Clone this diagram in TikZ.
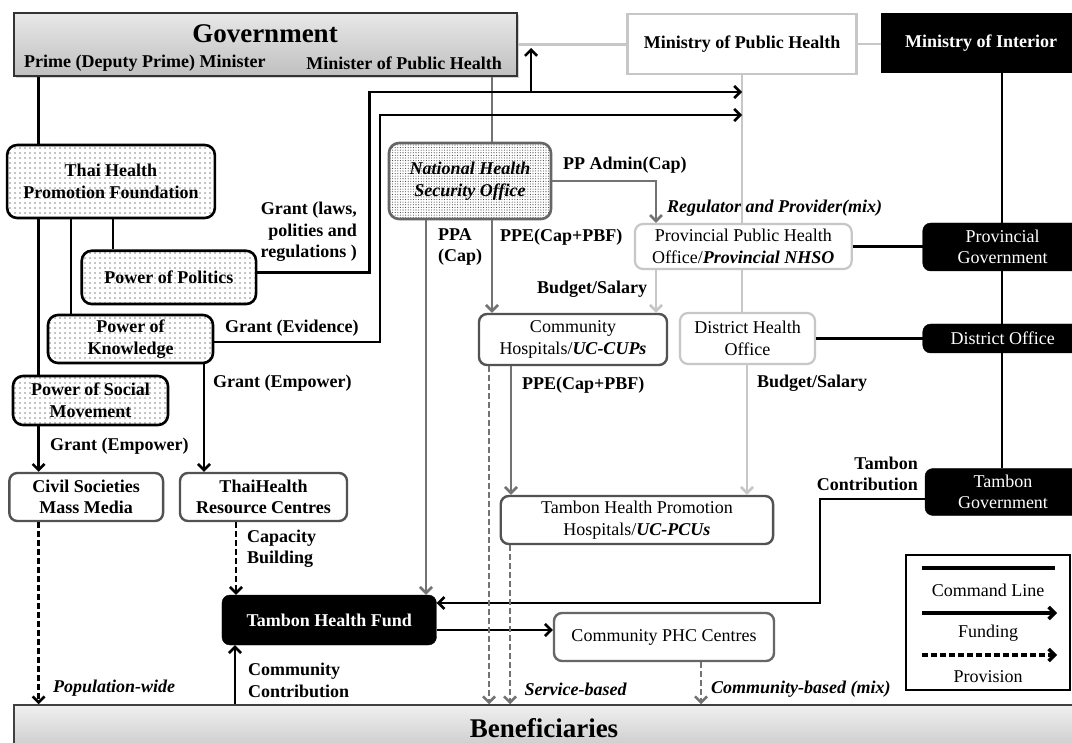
\documentclass[tikz,border=0pt]{standalone}
\usepackage{fontspec}
\setmainfont{Liberation Serif}
\usetikzlibrary{arrows.meta,patterns.meta,shadows}
\colorlet{midgray}{black!55}
\colorlet{lightgray}{black!22}
\begin{document}
\begin{tikzpicture}[x=1pt,y=-1pt,
  every node/.style={font=\fontsize{18}{21.5}\selectfont, inner sep=0pt, align=center},
  lbl/.style={font=\fontsize{18}{21.5}\selectfont\bfseries},
  lbli/.style={font=\fontsize{18}{21.5}\selectfont\bfseries\itshape},
  big/.style={font=\fontsize{27}{30}\selectfont\bfseries},
  cmd/.style={line width=2.6pt, draw=black},
  cmdlight/.style={line width=2.6pt, draw=lightgray},
  cmdmid/.style={line width=2.6pt, draw=midgray},
  fund/.style={line width=2.6pt, -{Straight Barb[length=6pt,width=12pt]}},
  prov/.style={fund, dash pattern=on 6pt off 3pt},
  dotbox/.style={draw=black, line width=2.6pt, rounded corners=10pt, preaction={fill=white},
     pattern={Dots[distance=5pt,radius=0.6pt]}, font=\fontsize{18}{21.5}\selectfont\bfseries},
  nhsobox/.style={draw=black!60, line width=2.6pt, rounded corners=10pt, preaction={fill=white},
     pattern={Dots[distance=2.6pt,radius=0.55pt]}, pattern color=black!75,
     font=\fontsize{18}{21.5}\selectfont\bfseries\itshape},
  darkbox/.style={draw=black!68, line width=2.4pt, rounded corners=8pt, fill=white},
  lightbox/.style={draw=lightgray, line width=2.2pt, rounded corners=8pt, fill=white},
  blackbox/.style={fill=black, draw=black, rounded corners=8pt, text=white},
]
\useasboundingbox (0,0) rectangle (1072,743);
\fill[white] (0,0) rectangle (1072,743);
\clip (0,0) rectangle (1072,743);

% ---------- nodes ----------
\node[draw=black!80, line width=1.5pt, top color=gray!18, bottom color=gray!50,
      drop shadow={shadow xshift=2pt, shadow yshift=-2pt, opacity=0.35},
      minimum width=503, minimum height=63] (gov) at (265.3,44.5) {};
\node[big] (govT) at (265,34) {Government};
\node[lbl, anchor=west] (govPM) at (24,63) {Prime (Deputy Prime) Minister};
\node[lbl, anchor=east] (govMPH) at (502,63) {Minister of Public Health};

\node[draw=lightgray, line width=2.2pt, fill=white, lbl, minimum width=229, minimum height=60] (moph) at (742,44) {Ministry of Public Health};
\node[fill=black, text=white, lbl, minimum width=200, minimum height=60] (moi) at (981,43) {Ministry of Interior};

\node[dotbox, minimum width=207.7, minimum height=73] (thf) at (111,181.5) {Thai Health\\Promotion Foundation};
\node[dotbox, minimum width=174.3, minimum height=53.3] (popol) at (168.9,277.4) {Power of Politics};
\node[dotbox, minimum width=165, minimum height=48] (poknow) at (130.5,339) {Power of\\Knowledge};
\node[dotbox, minimum width=155, minimum height=49] (posoc) at (90.5,400.5) {Power of Social\\Movement};
\node[darkbox, lbl, minimum width=153.7, minimum height=48] (civil) at (86.2,497) {Civil Societies\\Mass Media};
\node[darkbox, lbl, minimum width=167, minimum height=48] (thrc) at (263.5,497) {ThaiHealth\\Resource Centres};

\node[nhsobox, minimum width=162, minimum height=76] (nhso) at (470,181) {National Health\\Security Office};
\node[lightbox, minimum width=216.7, minimum height=45] (ppho) at (743.3,246.5) {Provincial Public Health\\Office/\textbf{\textit{Provincial NHSO}}};
\node[lightbox, minimum width=135, minimum height=51] (dho) at (747.5,338.5) {District Health\\Office};
\node[darkbox, minimum width=188, minimum height=51] (ch) at (573,339.5) {Community\\Hospitals/\textbf{\textit{UC-CUPs}}};
\node[darkbox, minimum width=272.3, minimum height=48] (thprom) at (636.9,520) {Tambon Health Promotion\\Hospitals/\textbf{\textit{UC-PCUs}}};
\node[darkbox, draw=black!60, minimum width=220, minimum height=48] (phc) at (664,637) {Community PHC Centres};
\node[blackbox, lbl, minimum width=214.5, minimum height=50] (thfund) at (329.2,620) {Tambon Health Fund};

\node[blackbox, minimum width=160, minimum height=48] (provgov) at (1002.7,247) {Provincial\\Government};
\node[blackbox, minimum width=160, minimum height=29] (distoff) at (1002.7,338.5) {District Office};
\node[blackbox, minimum width=156, minimum height=47] (tg) at (1003,492) {Tambon\\Government};

\node[draw=black!75, line width=1.5pt, top color=gray!12, bottom color=gray!42,
      minimum width=1060, minimum height=46, big] (benef) at (544,728) {Beneficiaries};

% ---------- helper coordinates ----------
\coordinate (xA) at (38.6,0);
\coordinate (xB) at (71,0);
\coordinate (xC) at (113,0);
\coordinate (xK) at (204,0);
\coordinate (xCC) at (235,0);
\coordinate (xCB) at (236,0);
\coordinate (xPol) at (369.5,0);
\coordinate (xEv) at (380,0);
\coordinate (xPPA) at (426,0);
\coordinate (xCH1) at (489,0);
\coordinate (xNH) at (492,0);
\coordinate (xTP) at (510,0);
\coordinate (xCH2) at (511,0);
\coordinate (xUp) at (531,0);
\coordinate (xAdm) at (656,0);
\coordinate (xPHC) at (701,0);
\coordinate (xMoPH) at (742,0);
\coordinate (xDHO) at (747,0);
\coordinate (xTG) at (820,0);
\coordinate (xMoI) at (1002,0);
\coordinate (yUp) at (0,48);
\coordinate (yTop1) at (0,92);
\coordinate (yTop2) at (0,115);
\coordinate (yPol) at (0,272.7);
\coordinate (yEv) at (0,342);
\coordinate (yTGl) at (0,499);
\coordinate (yTG) at (0,603);
\coordinate (yPHC) at (0,630);

% ---------- command lines ----------
\draw[cmd] (gov.south -| xA) -- (thf.north -| xA);
\draw[cmd] (thf.south -| xA) -- (posoc.north -| xA);
\draw[cmd] (thf.south -| xB) -- (poknow.north -| xB);
\draw[cmd] (thf.south -| xC) -- (popol.north -| xC);
\draw[cmdlight] (gov.east) -- (gov.east -| moph.west);
\draw[cmdlight] (moph.east) -- (moph.east -| moi.west);
\draw[cmdlight] (moph.south -| xMoPH) -- (ppho.north -| xMoPH);
\draw[cmdlight] (ppho.south -| xMoPH) -- (dho.north -| xMoPH);
\draw[cmdmid] (gov.south -| xNH) -- (nhso.north -| xNH);
\draw[cmd] (moi.south -| xMoI) -- (provgov.north -| xMoI);
\draw[cmd] (provgov.south -| xMoI) -- (distoff.north -| xMoI);
\draw[cmd] (distoff.south -| xMoI) -- (tg.north -| xMoI);
\draw[cmd] (ppho.east) -- (ppho.east -| provgov.west);
\draw[cmd] (dho.east) -- (dho.east -| distoff.west);

% ---------- funding ----------
\draw[fund] (popol.east |- yPol) -- (xPol |- yPol) -- (xPol |- yTop1) -- (xMoPH |- yTop1);
\draw[fund] (xUp |- yTop1) -- (xUp |- yUp);
\draw[fund] (poknow.east |- yEv) -- (xEv |- yEv) -- (xEv |- yTop2) -- (xMoPH |- yTop2);
\draw[fund] (poknow.south -| xK) -- (thrc.north -| xK);
\draw[fund] (posoc.south -| xA) -- (civil.north -| xA);
\draw[fund] (tg.west |- yTGl) -- (xTG |- yTGl) -- (xTG |- yTG) -- (thfund.east |- yTG);
\draw[fund] (thfund.east |- yPHC) -- (phc.west |- yPHC);
\draw[fund] (benef.north -| xCC) -- (thfund.south -| xCC);
\draw[fund, midgray] (nhso.east) -- (nhso.east -| xAdm) -- (ppho.north -| xAdm);
\draw[fund, midgray] (nhso.south -| xPPA) -- (thfund.north -| xPPA);
\draw[fund, midgray] (nhso.south -| xNH) -- (ch.north -| xNH);
\draw[fund, midgray] (ch.south -| xCH2) -- (thprom.north -| xCH2);
\draw[fund, lightgray] (ppho.south -| xAdm) -- (ch.north -| xAdm);
\draw[fund, lightgray] (dho.south -| xDHO) -- (thprom.north -| xDHO);

% ---------- provision ----------
\draw[prov] (civil.south -| xA) -- (benef.north -| xA);
\draw[prov] (thrc.south -| xCB) -- (thfund.north -| xCB);
\draw[prov, midgray] (ch.south -| xCH1) -- (benef.north -| xCH1);
\draw[prov, midgray] (thprom.south -| xTP) -- (benef.north -| xTP);
\draw[prov, midgray] (phc.south -| xPHC) -- (benef.north -| xPHC);

% ---------- labels ----------
\node[lbl, align=right, anchor=east] (lLaws) at (357,232) {Grant (laws,\\polities and\\regulations )};
\node[lbl, anchor=west] (lEv) at (225,328) {Grant (Evidence)};
\node[lbl, anchor=west] (lEmp1) at (213,383) {Grant (Empower)};
\node[lbl, anchor=west] (lEmp2) at (50,446) {Grant (Empower)};
\node[lbl, align=left, anchor=west] (lCap) at (247,548.5) {Capacity\\Building};
\node[lbli, anchor=west] (lPop) at (53,688) {Population-wide};
\node[lbl, align=left, anchor=west] (lCC) at (248,680.5) {Community\\Contribution};
\node[lbli, anchor=west] (lSB) at (524.5,689) {Service-based};
\node[lbli, anchor=west] (lCB) at (711,689) {Community-based (mix)};
\node[lbl, align=left, anchor=west] (lPPA) at (438,247) {PPA\\(Cap)};
\node[lbl, anchor=west] (lPPE1) at (500,237) {PPE(Cap+PBF)};
\node[lbl, anchor=west] (lAdm) at (563,165) {PP Admin(Cap)};
\node[lbli, anchor=west] (lReg) at (667,208) {Regulator and Provider(mix)};
\node[lbl, anchor=west] (lBS1) at (537,289) {Budget/Salary};
\node[lbl, anchor=west] (lPPE2) at (522,385) {PPE(Cap+PBF)};
\node[lbl, anchor=west] (lBS2) at (757,383) {Budget/Salary};
\node[lbl, align=right, anchor=east] (lTC) at (918,474) {Tambon\\Contribution};

% ---------- legend ----------
\node[draw=black, line width=2pt, minimum width=164, minimum height=135] (leg) at (988,622.5) {};
\coordinate (l1a) at (922,568); \coordinate (l1b) at (1055,568);
\coordinate (l2a) at (922,613); \coordinate (l2b) at (1057,613);
\coordinate (l3a) at (922,655); \coordinate (l3b) at (1057,655);
\draw[cmd, line width=3.5pt] (l1a) -- (l1b);
\draw[fund, line width=3.5pt] (l2a) -- (l2b);
\draw[prov, line width=3.5pt] (l3a) -- (l3b);
\node (legC) at (988,590) {Command Line};
\node (legF) at (988,633) {Funding};
\node (legP) at (988,677) {Provision};
\end{tikzpicture}
\end{document}
